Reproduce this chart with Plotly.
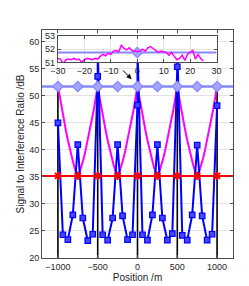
import plotly.graph_objects as go

# ---------------- data ----------------
BS_POS = [-1000, -500, 0, 500, 1000]
STEM_TOP = 51.75

GRID_POS = [-1000, -750, -500, -250, 0, 250, 500, 750, 1000]
LB_LEVEL = 51.75
RED_LEVEL = 35.2

MAG_X = [-1000, -975, -950, -925, -900, -875, -850, -825, -800, -775,
         -750, -725, -700, -675, -650, -625, -600, -575, -550, -525,
         -500, -475, -450, -425, -400, -375, -350, -325, -300, -275,
         -250, -225, -200, -175, -150, -125, -100, -75, -50, -25,
         0, 25, 50, 75, 100, 125, 150, 175, 200, 225,
         250, 275, 300, 325, 350, 375, 400, 425, 450, 475,
         500, 525, 550, 575, 600, 625, 650, 675, 700, 725,
         750, 775, 800, 825, 850, 875, 900, 925, 950, 975, 1000]
MAG_SIR = [51.8, 49.6, 47.4, 45.5, 43.6, 41.8, 40.1, 38.5, 37.2, 36.0,
           35.4, 36.0, 37.2, 38.5, 40.1, 41.8, 43.6, 45.5, 47.4, 49.6,
           51.8, 49.6, 47.4, 45.5, 43.6, 41.8, 40.1, 38.5, 37.2, 36.0,
           35.4, 36.0, 37.2, 38.5, 40.1, 41.8, 43.6, 45.5, 47.4, 49.6,
           51.8, 49.6, 47.4, 45.5, 43.6, 41.8, 40.1, 38.5, 37.2, 36.0,
           35.4, 36.0, 37.2, 38.5, 40.1, 41.8, 43.6, 45.5, 47.4, 49.6,
           51.8, 49.6, 47.4, 45.5, 43.6, 41.8, 40.1, 38.5, 37.2, 36.0,
           35.4, 36.0, 37.2, 38.5, 40.1, 41.8, 43.6, 45.5, 47.4, 49.6, 51.8]

BLUE_X = [-1000, -937.5, -875, -812.5, -750, -687.5, -625, -562.5,
          -500, -437.5, -375, -312.5, -250, -187.5, -125, -62.5,
          0, 62.5, 125, 187.5, 250, 312.5, 375, 437.5,
          500, 562.5, 625, 687.5, 750, 812.5, 875, 937.5, 1000]
BLUE_SIR = [45.0, 24.3, 23.4, 28.0, 41.0, 27.4, 23.2, 24.4,
            53.6, 24.3, 23.3, 27.4, 41.0, 27.8, 23.4, 24.3,
            48.3, 24.3, 23.3, 28.0, 41.0, 27.4, 23.3, 24.5,
            55.4, 24.2, 23.3, 28.0, 40.9, 27.8, 23.3, 24.4, 48.2]
BLUE_PEAK_X = [-500, 0, 500]
BLUE_PEAK_SIR = [59.0, 59.0, 59.0]

INSET_X = list(range(-30, 26))
INSET_MAG = [51.3, 51.25, 50.9, 51.2, 51.25, 51.2, 51.3, 51.2, 51.25, 51.0,
             51.2, 51.3, 51.25, 51.2, 51.3, 51.25, 51.45, 51.6, 51.5, 51.7,
             51.6, 51.85, 51.9, 51.8, 52.3, 52.05, 51.95, 52.1, 51.9, 51.85,
             51.8, 51.85, 52.0, 51.85, 52.1, 52.2, 52.05, 51.95, 51.75, 51.85,
             51.8, 51.75, 51.55, 51.75, 51.45, 51.2, 51.3, 51.55, 51.15, 51.6,
             51.75, 51.9, 51.25, 51.6, 51.3, 51.1]

X_TICKS = [-1000, -500, 0, 500, 1000]
Y_TICKS = [20, 25, 30, 35, 40, 45, 50, 55, 60]
INSET_X_TICKS = [-30, -20, -10, 0, 10, 20, 30]
INSET_Y_TICKS = [51, 52, 53]

# ---------------- styles ----------------
FONT = "Liberation Sans, Arial, sans-serif"
TXT = "#262626"
FRAME = "#4d4d4d"
GRID = "#e3e3e3"
LB = "rgb(135,135,255)"
LB_FILL = "rgb(165,165,255)"

fig = go.Figure()

# black stems at base-station positions
stem_x, stem_y = [], []
for p in BS_POS:
    stem_x += [p, p, None]
    stem_y += [20, STEM_TOP, None]
fig.add_trace(go.Scatter(x=stem_x, y=stem_y, mode="lines",
                         line=dict(color="black", width=1.6), hoverinfo="skip"))

# magenta curve
fig.add_trace(go.Scatter(x=MAG_X, y=MAG_SIR, mode="lines",
                         line=dict(color="#ff00ff", width=2)))

# blue line (with unmarked high peaks hidden behind the inset)
peaks = dict(zip(BLUE_PEAK_X, BLUE_PEAK_SIR))
bl_x, bl_y = [], []
for x, y in zip(BLUE_X, BLUE_SIR):
    bl_x.append(x)
    bl_y.append(y)
    if x in peaks:
        bl_x.append(x)
        bl_y.append(peaks[x])
fig.add_trace(go.Scatter(x=bl_x, y=bl_y, mode="lines",
                         line=dict(color="#0000ff", width=2)))
fig.add_trace(go.Scatter(x=BLUE_X, y=BLUE_SIR, mode="markers",
                         marker=dict(symbol="square", size=5.5, color="rgb(70,70,255)",
                                     line=dict(color="#0000ff", width=1.2))))

# light-blue level with diamonds
fig.add_trace(go.Scatter(x=[-1200, 1200], y=[LB_LEVEL, LB_LEVEL], mode="lines",
                         line=dict(color=LB, width=2.5)))
fig.add_trace(go.Scatter(x=GRID_POS, y=[LB_LEVEL] * len(GRID_POS), mode="markers",
                         marker=dict(symbol="diamond", size=8, color=LB_FILL,
                                     line=dict(color=LB, width=1.2))))

# red level with star markers
fig.add_trace(go.Scatter(x=[-1200, 1200], y=[RED_LEVEL, RED_LEVEL], mode="lines",
                         line=dict(color="#ff0000", width=2)))
fig.add_trace(go.Scatter(x=GRID_POS, y=[RED_LEVEL] * len(GRID_POS), mode="markers",
                         marker=dict(symbol="asterisk-open", size=7, color="#ff0000",
                                     line=dict(color="#ff0000", width=2))))

# inset
fig.add_trace(go.Scatter(x=[-30, 30], y=[LB_LEVEL, LB_LEVEL], mode="lines",
                         line=dict(color=LB, width=2), xaxis="x2", yaxis="y2"))
fig.add_trace(go.Scatter(x=[0], y=[LB_LEVEL], mode="markers",
                         marker=dict(symbol="diamond", size=8, color=LB_FILL,
                                     line=dict(color=LB, width=1.2)),
                         xaxis="x2", yaxis="y2"))
fig.add_trace(go.Scatter(x=INSET_X, y=INSET_MAG, mode="lines",
                         line=dict(color="#ff00ff", width=1.5), xaxis="x2", yaxis="y2"))

axis_common = dict(showline=True, linecolor=FRAME, linewidth=1, mirror="ticks",
                   ticks="inside", ticklen=3, tickcolor=FRAME, showgrid=True,
                   gridcolor=GRID, gridwidth=1, zeroline=False,
                   tickfont=dict(family=FONT, size=9, color=TXT))

fig.update_layout(
    width=249, height=286,
    margin=dict(l=33, r=24, t=22, b=32),
    paper_bgcolor="white", plot_bgcolor="white",
    showlegend=False,
    font=dict(family=FONT, size=9, color=TXT),
    xaxis=dict(range=[-1200, 1200], tickvals=X_TICKS, domain=[0, 1],
               title=dict(text="Position /m", font=dict(family=FONT, size=10, color=TXT),
                          standoff=3),
               **axis_common),
    yaxis=dict(range=[20, 62.2], tickvals=Y_TICKS, domain=[0, 1],
               title=dict(text="Signal to Interference Ratio /dB",
                          font=dict(family=FONT, size=10, color=TXT), standoff=2),
               **axis_common),
    xaxis2=dict(range=[-30, 30], tickvals=INSET_X_TICKS, domain=[0.0833, 0.914],
                anchor="y2", **axis_common),
    yaxis2=dict(range=[51, 53], tickvals=INSET_Y_TICKS, domain=[0.858, 0.974],
                anchor="x2", **axis_common),
    annotations=[dict(x=-75, y=53.1, xref="x", yref="y", ax=-200, ay=55.0,
                      axref="x", ayref="y", showarrow=True, arrowhead=2,
                      arrowsize=1, arrowwidth=1, arrowcolor="black", text="")],
)

fig.write_html("out.html")
